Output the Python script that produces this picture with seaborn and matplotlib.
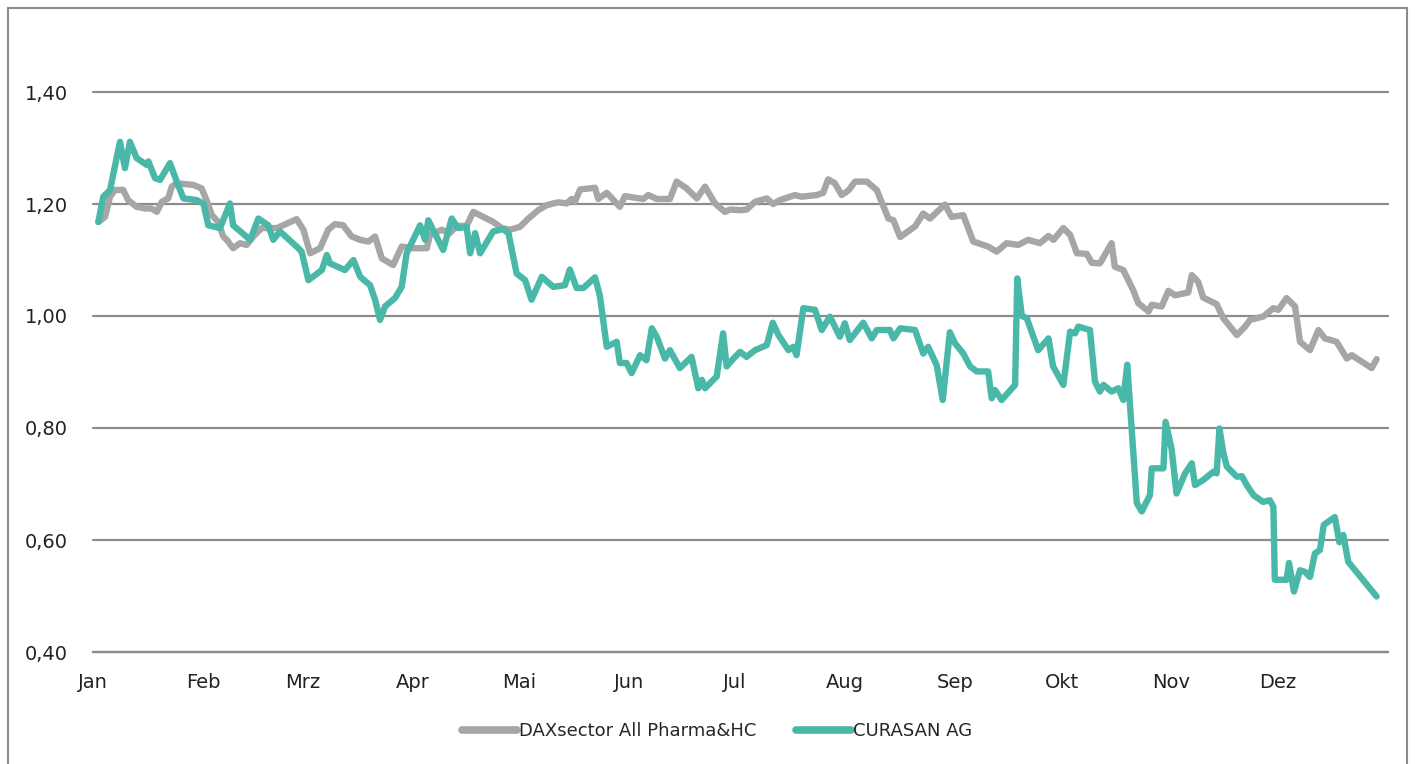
import pandas as pd
import seaborn as sns
import matplotlib.pyplot as plt
from matplotlib.patches import Rectangle

# day of year (0 = 1 Jan) and indexed value
dax_days = [1.5, 3.4, 4.8, 6.2, 8.5, 9.9, 12.3, 14.7, 16.5, 18.0, 19.4, 21.2, 22.2, 23.6, 28.3, 30.6,
            32.0, 33.5, 35.3, 36.7, 37.7, 39.5, 41.4, 43.3, 45.2, 47.5, 51.8, 55.0, 57.4, 59.3, 61.2,
            64.0, 66.3, 68.2, 70.5, 72.9, 75.3, 77.6, 79.5, 81.4, 84.6, 87.0, 90.3, 94.1, 95.0, 98.3,
            100.6, 102.5, 105.3, 107.2, 110.0, 112.8, 115.2, 117.5, 120.3, 122.7, 125.5, 127.9, 131.1,
            133.5, 134.9, 135.8, 137.3, 141.5, 142.4, 144.8, 148.5, 149.9, 155.1, 156.5, 158.9, 162.6,
            164.5, 167.3, 170.2, 172.5, 175.3, 178.1, 179.5, 182.4, 184.2, 186.6, 189.9, 191.7, 193.6,
            197.9, 199.7, 204.0, 205.8, 207.2, 209.1, 211.0, 212.9, 214.8, 218.1, 220.9, 224.2, 225.6,
            227.5, 231.7, 234.0, 235.9, 240.1, 242.0, 245.3, 248.1, 252.3, 254.7, 257.5, 260.8, 263.6,
            266.9, 269.3, 270.7, 273.5, 275.4, 277.3, 280.1, 281.5, 283.8, 287.1, 288.0, 290.4, 293.2,
            294.6, 297.5, 298.4, 301.2, 303.1, 305.0, 308.7, 309.7, 311.5, 312.9, 316.7, 318.6, 322.4,
            324.7, 326.1, 329.8, 332.7, 334.1, 336.4, 338.8, 340.2, 343.0, 345.4, 347.2, 350.5, 353.4,
            354.8, 360.4, 361.8]
dax_vals = [1.168, 1.177, 1.213, 1.225, 1.225, 1.207, 1.195, 1.192, 1.192, 1.186, 1.204, 1.210, 1.231,
            1.237, 1.234, 1.228, 1.207, 1.180, 1.168, 1.142, 1.136, 1.121, 1.130, 1.127, 1.142, 1.157,
            1.157, 1.166, 1.173, 1.154, 1.112, 1.121, 1.154, 1.164, 1.162, 1.142, 1.136, 1.133, 1.142,
            1.103, 1.091, 1.124, 1.121, 1.121, 1.145, 1.154, 1.148, 1.161, 1.161, 1.186, 1.177, 1.168,
            1.157, 1.154, 1.159, 1.174, 1.189, 1.198, 1.203, 1.201, 1.209, 1.204, 1.226, 1.229, 1.209,
            1.220, 1.195, 1.214, 1.209, 1.216, 1.209, 1.209, 1.240, 1.228, 1.210, 1.231, 1.201, 1.186,
            1.190, 1.189, 1.190, 1.204, 1.210, 1.200, 1.207, 1.216, 1.213, 1.216, 1.220, 1.244, 1.237,
            1.216, 1.224, 1.240, 1.240, 1.225, 1.174, 1.171, 1.141, 1.160, 1.183, 1.174, 1.199, 1.177,
            1.180, 1.133, 1.124, 1.115, 1.130, 1.127, 1.136, 1.130, 1.143, 1.136, 1.157, 1.145, 1.112,
            1.111, 1.095, 1.094, 1.130, 1.088, 1.082, 1.046, 1.023, 1.008, 1.020, 1.017, 1.045, 1.037,
            1.042, 1.073, 1.061, 1.033, 1.021, 0.996, 0.966, 0.981, 0.993, 0.999, 1.014, 1.011, 1.032,
            1.017, 0.954, 0.939, 0.975, 0.960, 0.954, 0.924, 0.930, 0.907, 0.923]

cur_days = [1.5, 2.9, 4.8, 7.6, 9.0, 10.4, 12.3, 15.1, 15.6, 17.5, 18.9, 21.7, 23.6, 25.5, 29.2, 31.1,
            32.5, 35.8, 38.6, 39.5, 44.3, 46.6, 49.4, 50.8, 52.7, 57.4, 58.8, 60.7, 64.5, 65.9, 66.8,
            71.0, 73.4, 75.3, 78.1, 79.5, 80.9, 82.3, 85.1, 87.0, 88.4, 92.2, 93.6, 94.5, 98.7, 101.1,
            102.9, 105.3, 106.3, 107.7, 109.1, 112.8, 115.6, 117.1, 119.4, 121.8, 123.6, 126.5, 129.7,
            133.0, 134.4, 136.3, 138.2, 141.5, 142.9, 144.8, 147.6, 148.5, 150.4, 151.8, 154.2, 156.0,
            157.5, 158.9, 161.2, 162.6, 165.4, 168.7, 170.6, 171.6, 172.5, 175.8, 177.6, 178.6, 180.5,
            182.4, 184.2, 186.6, 189.9, 191.6, 193.2, 196.0, 197.4, 198.3, 200.2, 203.5, 205.4, 207.7,
            210.5, 211.9, 213.3, 217.1, 219.5, 220.9, 224.6, 225.6, 227.5, 231.7, 234.0, 235.4, 237.8,
            239.5, 241.5, 243.0, 245.3, 247.2, 249.1, 252.3, 253.3, 254.2, 256.1, 259.9, 260.5, 261.8,
            263.2, 266.4, 269.3, 270.6, 273.5, 275.4, 276.8, 277.7, 281.0, 282.4, 283.8, 284.8, 287.1,
            289.0, 290.4, 291.5, 294.2, 295.6, 297.9, 298.4, 301.7, 302.3, 304.0, 305.4, 307.8, 309.7,
            310.6, 312.9, 315.8, 316.7, 317.5, 318.6, 319.6, 322.4, 323.8, 325.2, 327.1, 329.8, 331.7,
            332.7, 333.1, 336.4, 337.1, 338.5, 340.2, 341.6, 343.0, 344.4, 345.8, 346.9, 350.0, 351.3,
            352.4, 353.8, 361.8]
cur_vals = [1.168, 1.213, 1.225, 1.311, 1.264, 1.311, 1.282, 1.270, 1.276, 1.246, 1.243, 1.273, 1.240,
            1.210, 1.207, 1.201, 1.162, 1.157, 1.201, 1.162, 1.136, 1.174, 1.162, 1.136, 1.151, 1.124,
            1.115, 1.064, 1.082, 1.109, 1.094, 1.082, 1.100, 1.070, 1.055, 1.029, 0.993, 1.017, 1.032,
            1.052, 1.112, 1.162, 1.136, 1.171, 1.118, 1.174, 1.157, 1.159, 1.112, 1.148, 1.112, 1.151,
            1.155, 1.148, 1.076, 1.064, 1.029, 1.070, 1.052, 1.055, 1.083, 1.050, 1.050, 1.069, 1.035,
            0.945, 0.954, 0.916, 0.916, 0.898, 0.930, 0.921, 0.978, 0.963, 0.924, 0.939, 0.907, 0.927,
            0.871, 0.886, 0.871, 0.892, 0.969, 0.910, 0.924, 0.936, 0.927, 0.939, 0.948, 0.988, 0.966,
            0.939, 0.945, 0.930, 1.014, 1.011, 0.975, 0.999, 0.963, 0.987, 0.957, 0.988, 0.960, 0.975,
            0.975, 0.960, 0.978, 0.975, 0.933, 0.945, 0.912, 0.850, 0.971, 0.951, 0.933, 0.910, 0.901,
            0.901, 0.853, 0.868, 0.850, 0.877, 1.067, 1.000, 0.996, 0.939, 0.960, 0.910, 0.877, 0.972,
            0.969, 0.981, 0.975, 0.883, 0.865, 0.877, 0.865, 0.871, 0.850, 0.913, 0.666, 0.651, 0.680,
            0.728, 0.728, 0.811, 0.763, 0.683, 0.719, 0.737, 0.698, 0.707, 0.722, 0.719, 0.799, 0.755,
            0.731, 0.713, 0.714, 0.698, 0.680, 0.668, 0.671, 0.659, 0.529, 0.529, 0.559, 0.508, 0.546,
            0.543, 0.534, 0.576, 0.582, 0.627, 0.641, 0.596, 0.609, 0.561, 0.499]

series_names = ["DAXsector All Pharma&HC", "CURASAN AG"]
colors = ["#a6a6a6", "#49b8a8"]
month_labels = ["Jan", "Feb", "Mrz", "Apr", "Mai", "Jun", "Jul", "Aug", "Sep", "Okt", "Nov", "Dez"]
month_starts = [0, 31, 59, 90, 120, 151, 181, 212, 243, 273, 304, 334, 365]
y_ticks = [0.4, 0.6, 0.8, 1.0, 1.2, 1.4]

df = pd.concat([
    pd.DataFrame({"day": dax_days, "value": dax_vals, "series": series_names[0]}),
    pd.DataFrame({"day": cur_days, "value": cur_vals, "series": series_names[1]}),
])

sns.set_style("white")
plt.rcParams['font.family'] = ['DejaVu Sans']

fig = plt.figure(figsize=(14.15, 7.64), dpi=100)
ax = fig.add_axes([93 / 1415, 1 - 652 / 764, (1388 - 93) / 1415, (652 - 92) / 764])

sns.lineplot(data=df, x="day", y="value", hue="series", palette=colors, sort=False,
             linewidth=4.6, ax=ax, legend=False, zorder=3)
for line in ax.get_lines():
    line.set_solid_joinstyle("round")
    line.set_solid_capstyle("round")

ax.set_xlim(0, 365)
ax.set_ylim(0.4, 1.4)
ax.set_yticks(y_ticks)
ax.set_yticklabels([f"{v:.2f}".replace(".", ",") for v in y_ticks], fontsize=14, color="#222222")
ax.set_xticks(month_starts)
ax.set_xticklabels(month_labels + [""], fontsize=14, color="#222222")
ax.tick_params(axis="y", length=0, pad=18)
ax.tick_params(axis="x", length=6, width=1.3, color="#8c8c8c", pad=9, direction="out")
ax.set_xlabel("")
ax.set_ylabel("")

ax.grid(axis="y", color="#8c8c8c", linewidth=1.6)
ax.grid(axis="x", visible=False)
for gl in ax.get_ygridlines():
    gl.set_clip_on(False)
for side in ["top", "right", "left"]:
    ax.spines[side].set_visible(False)
ax.spines["bottom"].set_color("#8c8c8c")
ax.spines["bottom"].set_linewidth(1.6)

handles = [plt.Line2D([], [], color=c, linewidth=5.5) for c in colors]
fig.legend(handles, series_names, loc="center", bbox_to_anchor=(0.507, 0.043), ncol=2,
           frameon=False, fontsize=13, handlelength=3.0, handletextpad=0.15, columnspacing=2.2)

# outer chart frame
fig.patches.append(Rectangle((8 / 1415, -0.05), (1407 - 8) / 1415, 1.05 - 8 / 764,
                             transform=fig.transFigure, fill=False, edgecolor="#8c8c8c",
                             linewidth=1.5))

fig.savefig("out.png", dpi=100)
